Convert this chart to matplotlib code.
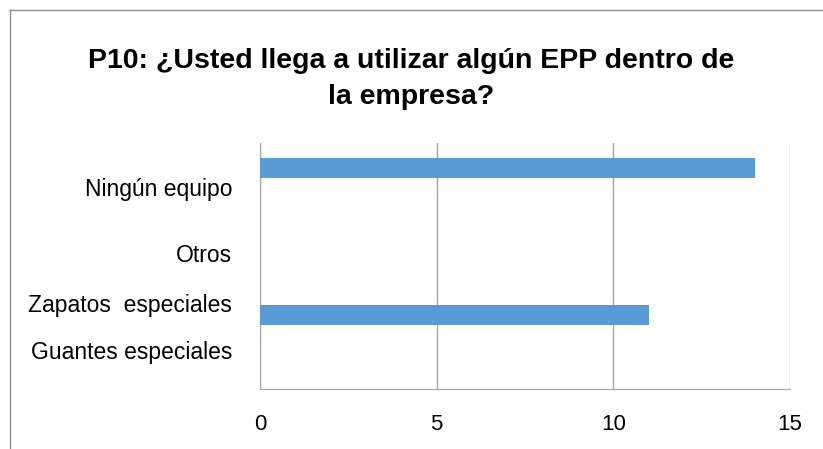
import matplotlib.pyplot as plt
from matplotlib.lines import Line2D

# data (top to bottom as drawn in the reference)
categories = ['Ningún equipo', 'Otros', 'Zapatos  especiales', 'Guantes especiales']
values = [14, 0, 11, 0]
bar_slots = [0, 1.5, 3, 4]        # slot index of each bar (5 slots, 0 = top)
label_slots = [0.4, 1.74, 2.75, 3.71]
xticks = [0, 5, 10, 15]
title = 'P10: ¿Usted llega a utilizar algún EPP dentro de\nla empresa?'

plt.rcParams['font.family'] = ['Liberation Sans', 'DejaVu Sans']

W, H = 823, 449
fig = plt.figure(figsize=(W / 100, H / 100), dpi=100)
ax = fig.add_axes([260 / W, 1 - 389 / H, 530 / W, 246 / H])

ax.barh(bar_slots, values, height=0.41, color='#5B9BD5', zorder=3)
ax.set_xlim(0, 15)
ax.set_ylim(4.5, -0.5)
ax.set_xticks(xticks)
ax.set_xticklabels([str(t) for t in xticks], fontsize=16)
ax.set_yticks(label_slots)
ax.set_yticklabels(categories, fontsize=16.5)
ax.tick_params(length=0)
ax.tick_params(axis='x', pad=18)
ax.tick_params(axis='y', pad=20)
ax.grid(axis='x', color='#A6A6A6', linewidth=1, zorder=0)
for s in ['top', 'right']:
    ax.spines[s].set_visible(False)
for s in ['left', 'bottom']:
    ax.spines[s].set_color('#A6A6A6')

fig.text(0.5, 1 - 79 / H, title, ha='center', va='center', fontsize=20.5,
         fontweight='bold', linespacing=1.45)

# outer chart frame (cropped on the right and bottom)
fx, fy = 10 / W, 1 - 10 / H
fig.add_artist(Line2D([fx, fx], [0, fy], color='#8C8C8C', linewidth=1))
fig.add_artist(Line2D([fx, 1], [fy, fy], color='#8C8C8C', linewidth=1))

fig.savefig('out.png', dpi=100)
